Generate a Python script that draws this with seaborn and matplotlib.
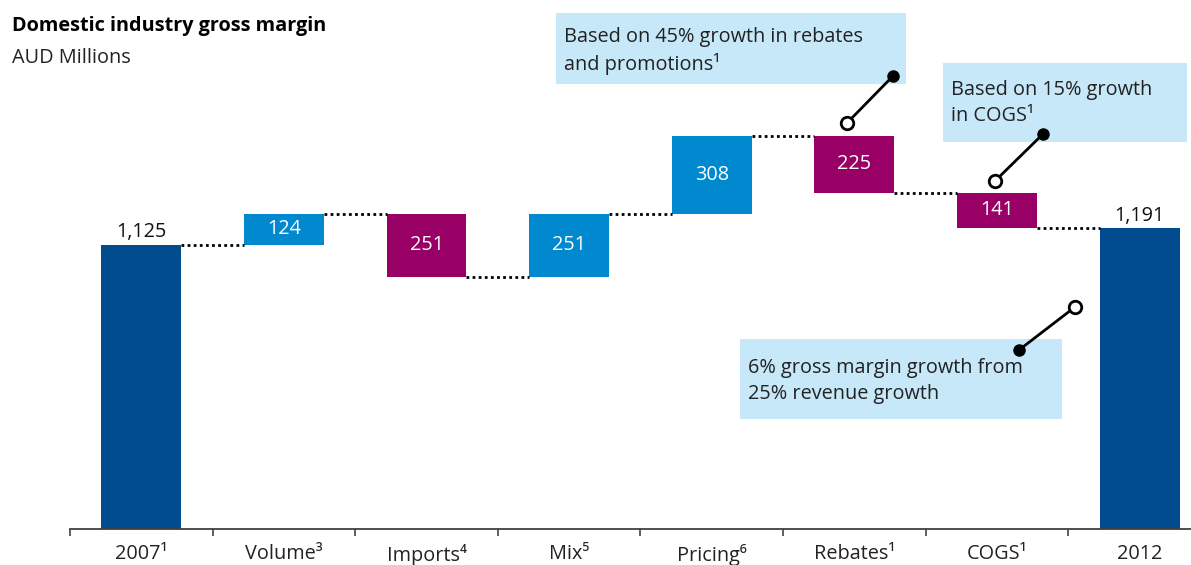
import matplotlib
matplotlib.use("Agg")
import matplotlib.pyplot as plt
import seaborn as sns
import pandas as pd
import numpy as np
from matplotlib.patches import Rectangle

# ---------------- data ----------------
categories = ["2007", "Volume", "Imports", "Mix", "Pricing", "Rebates", "COGS", "2012"]
tick_labels = ["2007¹", "Volume³", "Imports⁴", "Mix⁵", "Pricing⁶", "Rebates¹", "COGS¹", "2012"]
start_total = 1125
changes = [124, -251, 251, 308, -225, -141]
end_total = 1191
value_labels = ["1,125", "124", "251", "251", "308", "225", "141", "1,191"]

callout_rebates = "Based on 45% growth in rebates\nand promotions¹"
callout_cogs = "Based on 15% growth\nin COGS¹"
callout_total = "6% gross margin growth from\n25% revenue growth"

# ---------------- derived waterfall geometry ----------------
running = np.concatenate([[start_total], start_total + np.cumsum(changes)])
bottoms = [0.0]
heights = [float(start_total)]
kinds = ["total"]
for i, c in enumerate(changes):
    bottoms.append(float(min(running[i], running[i + 1])))
    heights.append(float(abs(c)))
    kinds.append("up" if c > 0 else "down")
bottoms.append(0.0)
heights.append(float(end_total))
kinds.append("total")

df = pd.DataFrame({"category": categories, "height": heights, "bottom": bottoms, "kind": kinds})

colors = {"total": "#004C8F", "up": "#0089CF", "down": "#990066"}
box_color = "#C7E8F8"
FS = 14.3

# ---------------- style ----------------
sns.set_style("white")
plt.rcParams["font.family"] = ["Open Sans", "DejaVu Sans"]

W, H = 1191, 565
fig = plt.figure(figsize=(W / 100, H / 100), dpi=100)
ax = fig.add_axes([70 / W, 36 / H, 1 - 70 / W, 529 / H])

BAR_W = 0.56
sns.barplot(data=df, x="category", y="height", order=categories, bottom=df["bottom"].values,
            width=BAR_W, ax=ax, color=colors["total"], saturation=1, errorbar=None)
for patch, k in zip(ax.patches, kinds):
    patch.set_facecolor(colors[k])
    patch.set_edgecolor("none")

ax.set_xlim(-0.5, 7.36)
ax.set_ylim(0, 2095)
ax.set_xlabel("")
ax.set_ylabel("")
ax.set_yticks([])
for s in ["left", "top", "right"]:
    ax.spines[s].set_visible(False)
ax.spines["bottom"].set_color("#404040")
ax.spines["bottom"].set_linewidth(1.3)

ax.set_xticks(range(len(categories)))
ax.set_xticklabels(tick_labels, fontsize=FS, color="#222222")
ax.set_xticks(np.arange(-0.5, len(categories) - 1, 1), minor=True)
ax.tick_params(axis="x", which="major", length=0, pad=11, bottom=False)
ax.tick_params(axis="x", which="minor", length=5, width=1.1, color="#333333",
               direction="out", bottom=True)

# connectors (dotted)
for i in range(len(categories) - 1):
    lvl = running[i] if i < len(running) else end_total
    ax.plot([i + BAR_W / 2, i + 1 - BAR_W / 2], [lvl, lvl], color="black",
            linestyle=(0, (1, 1.2)), linewidth=2, solid_capstyle="butt")

# value labels
for i, (b, h, k, lab) in enumerate(zip(bottoms, heights, kinds, value_labels)):
    if k == "total":
        ax.text(i, b + h + 10, lab, ha="center", va="bottom", fontsize=FS, color="#111111")
    else:
        ax.text(i, b + h / 2, lab, ha="center", va="center", fontsize=FS, color="white")

# ---------------- titles ----------------
def fx(px):
    return px / W

def fy(py):
    return 1 - py / H

fig.text(fx(12), fy(26), "Domestic industry gross margin", fontsize=FS, fontweight="bold",
         ha="left", va="center", color="black")
fig.text(fx(12), fy(58), "AUD Millions", fontsize=FS, ha="left", va="center", color="#222222")

# ---------------- callouts ----------------
def callout(box, text, text_mid, dot_filled, dot_open):
    x0, y0, x1, y1 = box
    fig.patches.append(Rectangle((fx(x0), fy(y1)), fx(x1 - x0), (y1 - y0) / H,
                                 transform=fig.transFigure, facecolor=box_color,
                                 edgecolor="none", zorder=1))
    fig.text(fx(x0 + 8), fy(text_mid), text, fontsize=FS, ha="left", va="center",
             color="#222222", linespacing=1.35, zorder=2)
    line = plt.Line2D([fx(dot_filled[0]), fx(dot_open[0])], [fy(dot_filled[1]), fy(dot_open[1])],
                      transform=fig.transFigure, color="black", linewidth=2, zorder=3)
    fig.lines.append(line)
    fig.lines.append(plt.Line2D([fx(dot_filled[0])], [fy(dot_filled[1])], transform=fig.transFigure,
                                marker="o", markersize=8, color="black", zorder=4))
    fig.lines.append(plt.Line2D([fx(dot_open[0])], [fy(dot_open[1])], transform=fig.transFigure,
                                marker="o", markersize=9, markerfacecolor="white",
                                markeredgecolor="black", markeredgewidth=2, zorder=4))

callout((556, 13, 906, 84), callout_rebates, 51, (893, 76), (847, 123))
callout((943, 63, 1187, 142), callout_cogs, 103, (1043, 134), (995, 181))
callout((740, 339, 1062, 419), callout_total, 381, (1019, 350), (1075, 307))

fig.savefig("out.png", dpi=100)
